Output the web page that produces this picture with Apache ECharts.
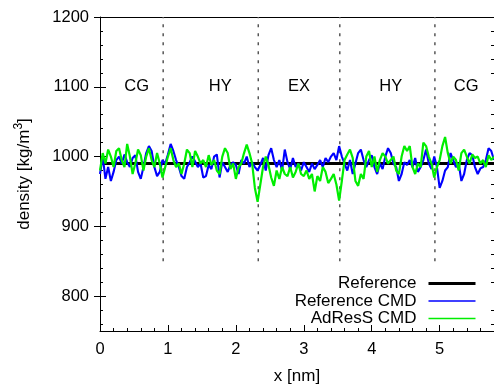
<!DOCTYPE html>
<html>
<head>
<meta charset="utf-8">
<script src="https://cdn.jsdelivr.net/npm/echarts@6/dist/echarts.min.js"></script>
<style>html,body{margin:0;padding:0;background:#fff}#c{width:494px;height:387px}</style>
</head>
<body>
<div id="c"></div>
<script>
// ---- data ----
const xStep = 0.04; // sampling step of the density profiles [nm]
const refX = [0, 5.8];
const refY = [990, 990];
const refCMD = [975,1000,968,985,965,978,995,1000,990,1003,992,985,998,1002,978,968,985,1005,1015,1008,985,972,978,995,990,1003,
1018,1008,995,985,972,968,985,992,1000,993,985,990,970,972,988,982,1000,1003,970,992,985,978,988,992,
988,975,995,990,1000,985,992,985,980,988,998,980,1002,1012,995,985,995,980,1010,992,982,998,985,990,980,
992,985,978,990,982,988,995,985,998,992,1000,1005,995,1015,1000,990,980,995,975,990,1005,1010,995,985,995,
1002,985,975,990,982,1000,1012,1005,990,985,965,975,992,988,995,985,998,978,985,995,1010,990,982,1000,985,
955,965,980,985,1005,995,985,990,965,975,995,1005,1002,985,975,983,985,995,1012,1008,995];
const adressCMD = [980,1005,990,1010,1000,985,1008,1012,995,985,1018,1000,975,990,1010,1002,980,1000,1012,995,985,1005,990,970,985,1000,
1012,995,985,990,975,990,1010,1005,985,1008,1000,990,995,985,1002,988,995,980,975,1000,1012,1005,982,990,
968,985,990,1005,1017,1005,990,955,935,960,985,1000,988,970,958,980,968,985,975,972,985,970,978,990,975,
972,980,968,975,950,972,965,985,978,962,968,975,960,937,965,995,1003,1010,998,965,958,975,968,1000,1008,
985,1000,978,995,1005,1000,990,995,1000,980,975,1000,1015,1008,1015,985,975,990,985,1020,1015,1000,990,970,985,
995,1015,1028,1005,990,1000,995,980,1005,1010,1000,990,1003,998,1000,990,995,985,1002,995,1000];
const regionBounds = [0.93, 2.33, 3.53, 4.93];
const regionLineY = [850, 1200];
const regionNames = ['CG', 'HY', 'EX', 'HY', 'CG'];
const regionLabelX = [0.54, 1.77, 2.93, 4.28, 5.39];
const regionLabelY = 1100;
const xMajorTicks = [0, 1, 2, 3, 4, 5];
const xMinorTicks = [0.2,0.4,0.6,0.8,1.2,1.4,1.6,1.8,2.2,2.4,2.6,2.8,3.2,3.4,3.6,3.8,4.2,4.4,4.6,4.8,5.2,5.4,5.6];
const yMajorTicks = [800, 900, 1000, 1100, 1200];
const yMinorTicks = [760,780,820,840,860,880,920,940,960,980,1020,1040,1060,1080,1120,1140,1160,1180];

// ---- build ----
const FONT = '"Liberation Sans", Arial, Helvetica, sans-serif';
const toPairs = arr => arr.map((v, i) => [+(i * xStep).toFixed(4), v]);
const series = [];
regionBounds.forEach(b => {
  series.push({
    type: 'line', silent: true, symbol: 'none', z: 1,
    data: regionLineY.map(y => [b, y]),
    lineStyle: { color: '#555', width: 1.5, type: [3, 6] }
  });
});
series.push({
  name: 'Reference', type: 'line', symbol: 'none', z: 2,
  data: refX.map((x, i) => [x, refY[i]]),
  lineStyle: { color: '#000', width: 3 }, itemStyle: { color: '#000' }
});
series.push({
  name: 'Reference CMD', type: 'line', symbol: 'none', z: 3,
  data: toPairs(refCMD),
  lineStyle: { color: '#0000ff', width: 2.1 }, itemStyle: { color: '#0000ff' }
});
series.push({
  name: 'AdResS CMD', type: 'line', symbol: 'none', z: 4,
  data: toPairs(adressCMD),
  lineStyle: { color: '#00ee00', width: 2.2 }, itemStyle: { color: '#00ee00' }
});
series.push({
  type: 'scatter', silent: true, symbolSize: 0, z: 5,
  itemStyle: { opacity: 1 },
  data: regionNames.map((n, i) => ({ name: n, value: [regionLabelX[i], regionLabelY] })),
  label: { show: true, position: 'inside', formatter: p => p.name, color: '#000', opacity: 1,
           textBorderWidth: 0, fontSize: 16.5, fontFamily: FONT }
});

const plain = v => String(v);
const tickCommon = { inside: true, lineStyle: { color: '#000', width: 1 } };
const option = {
  animation: false,
  backgroundColor: '#fff',
  textStyle: { fontFamily: FONT },
  grid: { left: 100, right: 0, top: 17, bottom: 56, outerBoundsMode: 'none' },
  xAxis: [
    { type: 'value', min: 0, max: 5.8, position: 'bottom',
      axisLine: { show: true, lineStyle: { color: '#000', width: 1 } },
      axisTick: Object.assign({ length: 6, customValues: xMajorTicks }, tickCommon),
      axisLabel: { customValues: xMajorTicks, formatter: plain, color: '#000', fontSize: 16.5, fontFamily: FONT, margin: 10 },
      splitLine: { show: false },
      name: 'x [nm]', nameLocation: 'middle', nameGap: 37,
      nameTextStyle: { color: '#000', fontSize: 17, fontFamily: FONT } },
    { type: 'value', min: 0, max: 5.8, position: 'bottom',
      axisLine: { show: false },
      axisTick: Object.assign({ length: 3, customValues: xMinorTicks }, tickCommon),
      axisLabel: { show: false }, splitLine: { show: false } },
    { type: 'value', min: 0, max: 5.8, position: 'top',
      axisLine: { show: true, lineStyle: { color: '#000', width: 1 } },
      axisTick: { show: false }, axisLabel: { show: false }, splitLine: { show: false } }
  ],
  yAxis: [
    { type: 'value', min: 750, max: 1200, position: 'left',
      axisLine: { show: true, lineStyle: { color: '#000', width: 1 } },
      axisTick: Object.assign({ length: 6, customValues: yMajorTicks }, tickCommon),
      axisLabel: { customValues: yMajorTicks, formatter: plain, color: '#000', fontSize: 16.5, fontFamily: FONT, margin: 11 },
      splitLine: { show: false },
      name: '{a|density [kg/m}{sup|3}{a|]}', nameLocation: 'middle', nameGap: 67,
      nameTextStyle: { color: '#000', fontFamily: FONT,
        rich: { a: { fontSize: 17, lineHeight: 20, verticalAlign: 'bottom', fontFamily: FONT, color: '#000' },
                sup: { fontSize: 12, lineHeight: 12, verticalAlign: 'top', fontFamily: FONT, color: '#000' } } } },
    { type: 'value', min: 750, max: 1200, position: 'left',
      axisLine: { show: false },
      axisTick: Object.assign({ length: 3, customValues: yMinorTicks }, tickCommon),
      axisLabel: { show: false }, splitLine: { show: false } },
    { type: 'value', min: 750, max: 1200, position: 'right',
      axisLine: { show: false },
      axisTick: Object.assign({ length: 6, customValues: yMajorTicks }, tickCommon),
      axisLabel: { show: false }, splitLine: { show: false } },
    { type: 'value', min: 750, max: 1200, position: 'right',
      axisLine: { show: false },
      axisTick: Object.assign({ length: 3, customValues: yMinorTicks }, tickCommon),
      axisLabel: { show: false }, splitLine: { show: false } }
  ],
  legend: {
    data: [
      { name: 'Reference', lineStyle: { width: 3 } },
      { name: 'Reference CMD', lineStyle: { width: 1.5 } },
      { name: 'AdResS CMD', lineStyle: { width: 1.5 } }
    ],
    orient: 'vertical', right: 12, top: 270, align: 'right',
    itemWidth: 47, itemHeight: 14, itemGap: 0.5,
    itemStyle: { color: 'transparent', borderWidth: 0, opacity: 0 },
    textStyle: { color: '#000', fontSize: 17, lineHeight: 17, fontFamily: FONT, padding: [0, 7, 0, 0] },
    selectedMode: false
  },
  series: series
};
const chart = echarts.init(document.getElementById('c'), null, { renderer: 'canvas' });
chart.setOption(option);
</script>
</body>
</html>
